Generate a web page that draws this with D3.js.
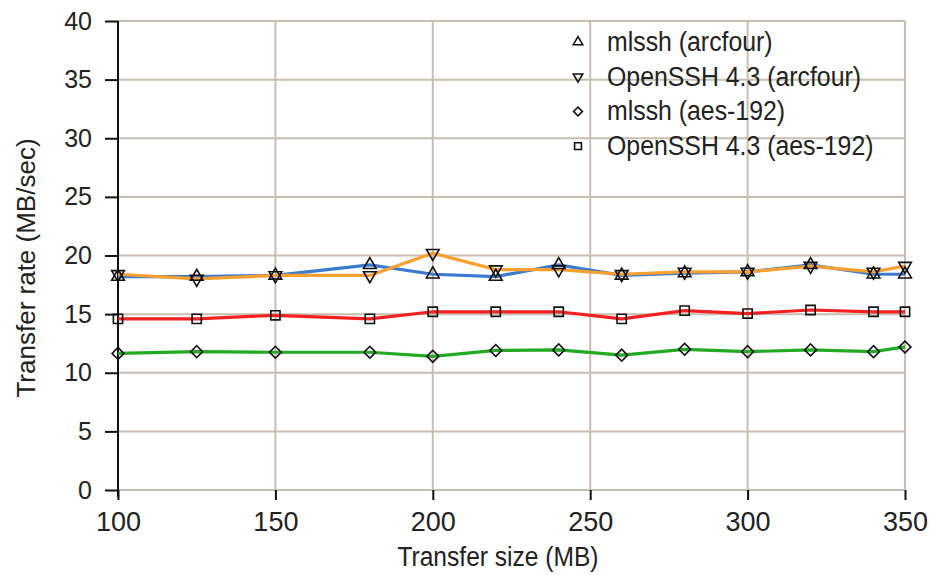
<!DOCTYPE html>
<html><head><meta charset="utf-8">
<script src="https://cdn.jsdelivr.net/npm/d3@7"></script>
<style>
html,body{margin:0;padding:0;background:#fff;}
svg text{font-family:"Liberation Sans",Arial,sans-serif;fill:#222;}
</style></head>
<body><svg id="c" width="930" height="575"></svg>
<script>
const sizes = [100,125,150,180,200,220,240,260,280,300,320,340,350];
const mlsshArcfour  = [18.2,18.2,18.3,19.2,18.4,18.2,19.2,18.3,18.5,18.6,19.2,18.4,18.4];
const opensshArcfour= [18.4,18.0,18.3,18.3,20.2,18.8,18.8,18.4,18.6,18.6,19.1,18.6,19.1];
const mlsshAes      = [11.65,11.8,11.75,11.75,11.4,11.9,11.95,11.5,12.0,11.8,11.95,11.8,12.2];
const opensshAes    = [14.6,14.6,14.9,14.6,15.2,15.2,15.2,14.6,15.3,15.05,15.35,15.2,15.2];
const seriesNames = ["mlssh (arcfour)","OpenSSH 4.3 (arcfour)","mlssh (aes-192)","OpenSSH 4.3 (aes-192)"];
const xTicks = [100,150,200,250,300,350];
const yTicks = [0,5,10,15,20,25,30,35,40];
const xTitle = "Transfer size (MB)";
const yTitle = "Transfer rate (MB/sec)";

const svg = d3.select("#c");
const m = {l:118, r:25, t:21, b:85};
const W = 930, H = 575;
const x = d3.scaleLinear().domain([100,350]).range([m.l, W-m.r]);
const y = d3.scaleLinear().domain([0,40]).range([H-m.b, m.t]);
const grid = "#c8bfb0";

function squeeze(sel, f){
  sel.each(function(){
    const w = this.getComputedTextLength();
    d3.select(this).attr("textLength", w*f).attr("lengthAdjust","spacingAndGlyphs");
  });
}

svg.append("g").selectAll("line").data(yTicks).join("line")
  .attr("x1", m.l).attr("x2", W-m.r).attr("y1", d=>y(d)).attr("y2", d=>y(d))
  .attr("stroke", grid).attr("stroke-width", 2);
svg.append("g").selectAll("line").data(xTicks.slice(1)).join("line")
  .attr("y1", m.t).attr("y2", H-m.b).attr("x1", d=>x(d)).attr("x2", d=>x(d))
  .attr("stroke", grid).attr("stroke-width", 2);

const yAxis = svg.append("g").attr("transform", `translate(${m.l},0)`)
  .call(d3.axisLeft(y).tickValues(yTicks).tickSize(13).tickPadding(13));
yAxis.select(".domain").attr("stroke","#111").attr("stroke-width",2).attr("d", `M0,${y(40)}V${y(0)+7}`);
yAxis.selectAll(".tick line").attr("stroke","#111").attr("stroke-width",2);
yAxis.selectAll(".tick text").attr("font-size", 25).attr("fill","#222").attr("font-family","Liberation Sans, Arial, sans-serif");

const xAxis = svg.append("g").attr("transform", `translate(0,${H-m.b})`)
  .call(d3.axisBottom(x).tickValues(xTicks).tickSize(10).tickPadding(12));
xAxis.select(".domain").remove();
xAxis.selectAll(".tick line").attr("stroke","#111").attr("stroke-width",2);
xAxis.selectAll(".tick text").attr("font-size", 27).attr("fill","#222").attr("font-family","Liberation Sans, Arial, sans-serif");

svg.append("text").attr("x", 498).attr("y", 566).attr("text-anchor","middle")
  .attr("font-size", 27).text(xTitle).call(squeeze, 0.91);
svg.append("text").attr("transform", `translate(35,268) rotate(-90)`)
  .attr("text-anchor","middle").attr("font-size", 26).text(yTitle);

const series = [
  {name:seriesNames[0], vals:mlsshArcfour, color:"#3a7bd0", sym:d3.symbolTriangle, rot:0, sz:70},
  {name:seriesNames[2], vals:mlsshAes, color:"#22aa22", sym:d3.symbolSquare, rot:45, sz:70},
  {name:seriesNames[3], vals:opensshAes, color:"#f52020", sym:d3.symbolSquare, rot:0, sz:85},
  {name:seriesNames[1], vals:opensshArcfour, color:"#f8a030", sym:d3.symbolTriangle, rot:180, sz:70},
];
const line = d3.line().x((d,i)=>x(sizes[i])).y(d=>y(d));
series.forEach(s=>{
  svg.append("path").datum(s.vals).attr("d", line).attr("fill","none")
    .attr("stroke", s.color).attr("stroke-width", 3.2);
});
series.forEach(s=>{
  svg.append("g").selectAll("path").data(s.vals).join("path")
    .attr("d", d3.symbol(s.sym, s.sz))
    .attr("transform", (d,i)=>`translate(${x(sizes[i])},${y(d)}) rotate(${s.rot})`)
    .attr("fill","none").attr("stroke","#111").attr("stroke-width",1.6);
});

const legOrder = [series[0], series[3], series[1], series[2]];
const lg = svg.append("g");
legOrder.forEach((s,i)=>{
  const yy = 42 + i*34.7;
  lg.append("path").attr("d", d3.symbol(s.sym, s.sz*0.55))
    .attr("transform", `translate(578,${yy}) rotate(${s.rot})`)
    .attr("fill","none").attr("stroke","#111").attr("stroke-width",1.6);
  lg.append("text").attr("x", 607).attr("y", yy+9).attr("font-size", 27).text(s.name).call(squeeze, 0.92);
});
</script></body></html>
